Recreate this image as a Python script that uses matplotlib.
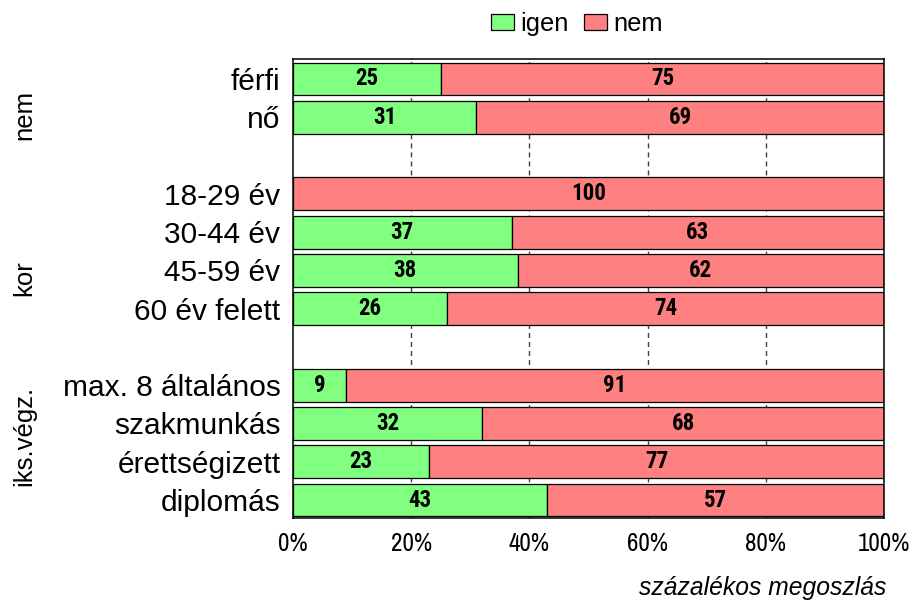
import matplotlib
matplotlib.use("Agg")
import matplotlib.pyplot as plt
import matplotlib.transforms as mtransforms
from matplotlib.patches import Patch
import numpy as np

# ---- data ----
groups = ["nem", "kor", "iks.végz."]
cat_nem = ["férfi", "nő"]
cat_kor = ["18-29 év", "30-44 év", "45-59 év", "60 év felett"]
cat_isk = ["max. 8 általános", "szakmunkás", "érettségizett", "diplomás"]
igen_nem = [25, 31]
nem_nem = [75, 69]
igen_kor = [0, 37, 38, 26]
nem_kor = [100, 63, 62, 74]
igen_isk = [9, 32, 23, 43]
nem_isk = [91, 68, 77, 57]
xticks = [0, 20, 40, 60, 80, 100]
xticklabels = ["0%", "20%", "40%", "60%", "80%", "100%"]
series_names = ["igen", "nem"]
xlabel = "százalékos megoszlás"

GREEN = "#80FF80"
RED = "#FF8080"
SANS = ["Liberation Sans", "DejaVu Sans"]
NARROW_BOLD = ["Roboto Condensed", "Barlow Semi Condensed", "Liberation Sans", "DejaVu Sans"]
NARROW = ["Archivo Narrow", "Liberation Sans", "DejaVu Sans"]

plt.rcParams["font.family"] = SANS

fig = plt.figure(figsize=(9.11, 6.03), dpi=100)
ax = fig.add_axes([293/911, 1-518/603, (884-293)/911, (518-58.5)/603])

# build rows with a spacer between groups
cats_all = [cat_nem, cat_kor, cat_isk]
igen_all = [igen_nem, igen_kor, igen_isk]
nem_all = [nem_nem, nem_kor, nem_isk]
labels, igen, nem, pos = [], [], [], []
p = 0
for c, a, b in zip(cats_all, igen_all, nem_all):
    for ci in range(len(c)):
        labels.append(c[ci]); igen.append(a[ci]); nem.append(b[ci]); pos.append(p)
        p += 1
    p += 1  # spacer

igen = np.array(igen, float)
nem = np.array(nem, float)
pos = np.array(pos, float)

h = 0.86
ax.barh(pos, igen, height=h, color=GREEN, edgecolor="black", linewidth=0.9, zorder=3)
ax.barh(pos, nem, left=igen, height=h, color=RED, edgecolor="black", linewidth=0.9, zorder=3)

for y, a, b in zip(pos, igen, nem):
    if a > 0:
        ax.text(a/2, y, f"{int(a)}", ha="center", va="center", fontsize=16.5,
                fontweight="bold", family=NARROW_BOLD, zorder=4)
    if b > 0:
        ax.text(a + b/2, y, f"{int(b)}", ha="center", va="center", fontsize=16.5,
                fontweight="bold", family=NARROW_BOLD, zorder=4)

for xv in xticks[1:-1]:
    ax.axvline(xv, color="#404040", lw=1.0, dashes=(3.6, 2.9), zorder=1)

ax.set_xlim(0, 100)
ax.set_ylim(11.47, -0.535)
ax.set_yticks(pos)
ax.set_yticklabels(labels, fontsize=21.5)
ax.set_xticks(xticks)
ax.set_xticklabels(xticklabels, fontsize=18, family=NARROW)
ax.tick_params(axis="both", length=0)
ax.tick_params(axis="y", pad=9)
ax.tick_params(axis="x", pad=10)
for s in ax.spines.values():
    s.set_linewidth(1.1)
    s.set_zorder(5)

# group labels
trans = mtransforms.blended_transform_factory(fig.transFigure, ax.transData)
group_y = [0.94, 5.2, 9.32]
for g, gy in zip(groups, group_y):
    ax.text(24/911, gy, g, rotation=90, ha="center", va="center", fontsize=18.5,
            transform=trans)

fig.text(886/911, 1-588/603, xlabel, ha="right", va="center", fontsize=17.7,
         style="italic")

handles = [Patch(facecolor=GREEN, edgecolor="black", linewidth=0.9),
           Patch(facecolor=RED, edgecolor="black", linewidth=0.9)]
fig.legend(handles, series_names, loc="center", bbox_to_anchor=(577/911, 1-24/603),
           ncol=2, frameon=False, fontsize=18.3, handlelength=0.9, handleheight=0.63,
           handletextpad=0.24, columnspacing=0.63, borderpad=0, borderaxespad=0)

fig.savefig("out.png", dpi=100)
